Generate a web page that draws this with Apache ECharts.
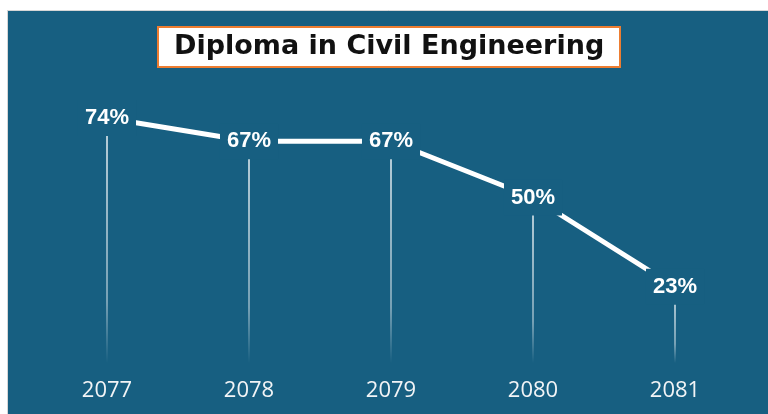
<!DOCTYPE html>
<html>
<head>
<meta charset="utf-8">
<script src="https://cdn.jsdelivr.net/npm/echarts@6/dist/echarts.min.js"></script>
<style>
  html, body { margin: 0; padding: 0; background: #ffffff; }
  #chart { width: 768px; height: 414px; }
</style>
</head>
<body>
<div id="chart"></div>
<script>
// Pass rate by academic year (Bikram Sambat)
const years = ['2077', '2078', '2079', '2080', '2081'];
const passRate = [74, 67, 67, 50, 23];

const panelBlue = '#175f81';

const chart = echarts.init(document.getElementById('chart'));

chart.setOption({
  backgroundColor: '#ffffff',
  animation: false,
  graphic: [{
    type: 'rect',
    z: -10,
    silent: true,
    shape: { x: 7.5, y: 10.5, width: 780, height: 420 },
    style: { fill: panelBlue, stroke: '#d6d6d6', lineWidth: 1 }
  }],
  title: {
    text: 'Diploma in Civil Engineering',
    left: 158,
    top: 27,
    padding: [6, 16, 7, 16],
    backgroundColor: '#ffffff',
    borderColor: '#ed7d31',
    borderWidth: 2,
    textStyle: {
      fontFamily: 'DejaVu Sans',
      fontWeight: 'bold',
      fontSize: 27,
      color: '#111111'
    }
  },
  grid: { left: 36, right: 22, top: 32, bottom: 51 },
  xAxis: {
    type: 'category',
    data: years,
    axisLine: { show: false },
    axisTick: { show: false },
    splitLine: { show: false },
    axisLabel: {
      color: '#f2f4f6',
      fontFamily: 'Open Sans',
      fontSize: 22,
      margin: 17
    }
  },
  yAxis: {
    type: 'value',
    min: 0,
    max: 100,
    show: false
  },
  series: [
    {
      // thin fading drop lines under each point
      type: 'bar',
      z: 1,
      data: passRate,
      barWidth: 1.5,
      silent: true,
      itemStyle: {
        color: {
          type: 'linear', x: 0, y: 0, x2: 0, y2: 1,
          colorStops: [
            { offset: 0, color: 'rgba(255,255,255,0.95)' },
            { offset: 0.75, color: 'rgba(255,255,255,0.55)' },
            { offset: 1, color: 'rgba(255,255,255,0)' }
          ]
        }
      }
    },
    {
      type: 'line',
      z: 3,
      data: passRate,
      symbol: 'circle',
      symbolSize: 1,
      showSymbol: true,
      itemStyle: { color: panelBlue },
      lineStyle: { color: '#ffffff', width: 5 },
      label: {
        show: true,
        position: 'inside',
        formatter: '{c}%',
        color: '#ffffff',
        fontFamily: 'Liberation Sans',
        fontWeight: 'bold',
        fontSize: 22,
        backgroundColor: panelBlue,
        padding: [7, 7]
      }
    }
  ]
});
</script>
</body>
</html>
